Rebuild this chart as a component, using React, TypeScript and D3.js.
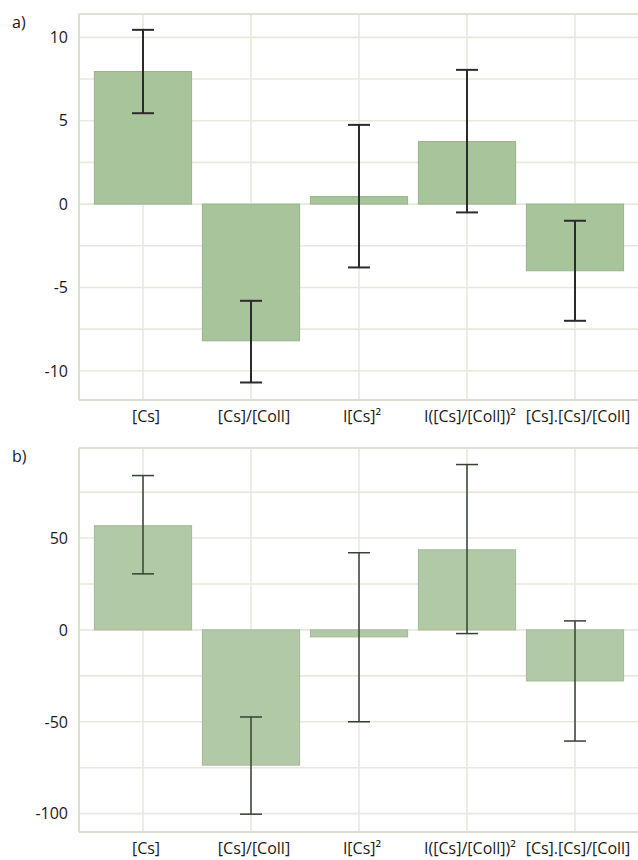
import React, { useEffect, useRef } from "react";
import * as d3 from "d3";

const categories = ["[Cs]", "[Cs]/[Coll]", "I[Cs]²", "I([Cs]/[Coll])²", "[Cs].[Cs]/[Coll]"];

const valuesA = [7.95, -8.2, 0.45, 3.75, -4.0];
const lowA = [5.45, -10.7, -3.8, -0.5, -7.0];
const highA = [10.45, -5.8, 4.75, 8.05, -1.0];
const ticksA = [-10, -5, 0, 5, 10];
const gridA = [-10, -7.5, -5, -2.5, 0, 2.5, 5, 7.5, 10];

const valuesB = [56.7, -73.6, -3.8, 43.6, -27.8];
const lowB = [30.5, -100.3, -50, -2, -60.5];
const highB = [84, -47.4, 42, 90, 4.9];
const ticksB = [-100, -50, 0, 50];
const gridB = [-100, -75, -50, -25, 0, 25, 50, 75];

const W = 638;
const H = 860;

export default function App() {
  const ref = useRef<SVGSVGElement>(null);

  useEffect(() => {
    const svg = d3.select(ref.current);
    svg.selectAll("*").remove();

    const x = d3.scaleBand<string>()
      .domain(categories)
      .range([89, 629])
      .paddingInner(0.1)
      .paddingOuter(0.05);

    function drawPanel(opts: any) {
      const { label, top, bottom, domain, values, low, high, ticks, grid, fill, errColor, errWidth, labelY } = opts;
      const left = 79;
      const right = W;
      const y = d3.scaleLinear().domain(domain).range([bottom, top]);
      const g = svg.append("g");

      // horizontal grid
      g.selectAll(".hg").data(grid).enter().append("line")
        .attr("x1", left).attr("x2", right)
        .attr("y1", (d: number) => y(d)).attr("y2", (d: number) => y(d))
        .attr("stroke", "#e6eadd").attr("stroke-width", 1.6);

      // vertical grid at category centers
      g.selectAll(".vg").data(categories).enter().append("line")
        .attr("x1", (d: string) => x(d)! + x.bandwidth() / 2)
        .attr("x2", (d: string) => x(d)! + x.bandwidth() / 2)
        .attr("y1", top).attr("y2", bottom)
        .attr("stroke", "#e6eadd").attr("stroke-width", 1.6);

      // frame
      g.append("line").attr("x1", left).attr("x2", right).attr("y1", top).attr("y2", top)
        .attr("stroke", "#dbe4d2").attr("stroke-width", 2);
      g.append("line").attr("x1", left).attr("x2", right).attr("y1", bottom).attr("y2", bottom)
        .attr("stroke", "#d6e0cc").attr("stroke-width", 2);
      g.append("line").attr("x1", left).attr("x2", left).attr("y1", top).attr("y2", bottom)
        .attr("stroke", "#d6e0cc").attr("stroke-width", 2);

      // bars
      g.selectAll(".bar").data(values).enter().append("rect")
        .attr("x", (d: number, i: number) => x(categories[i])!)
        .attr("width", x.bandwidth())
        .attr("y", (d: number) => Math.min(y(d), y(0)))
        .attr("height", (d: number) => Math.abs(y(d) - y(0)))
        .attr("fill", fill)
        .attr("stroke", d3.color(fill)!.darker(0.25).toString())
        .attr("stroke-width", 1);

      // error bars
      const cx = (i: number) => x(categories[i])! + x.bandwidth() / 2;
      const eb = g.selectAll(".err").data(values).enter().append("g");
      eb.append("line")
        .attr("x1", (d: number, i: number) => cx(i)).attr("x2", (d: number, i: number) => cx(i))
        .attr("y1", (d: number, i: number) => y(high[i])).attr("y2", (d: number, i: number) => y(low[i]))
        .attr("stroke", errColor).attr("stroke-width", errWidth);
      eb.append("line")
        .attr("x1", (d: number, i: number) => cx(i) - 11).attr("x2", (d: number, i: number) => cx(i) + 11)
        .attr("y1", (d: number, i: number) => y(high[i])).attr("y2", (d: number, i: number) => y(high[i]))
        .attr("stroke", errColor).attr("stroke-width", errWidth);
      eb.append("line")
        .attr("x1", (d: number, i: number) => cx(i) - 11).attr("x2", (d: number, i: number) => cx(i) + 11)
        .attr("y1", (d: number, i: number) => y(low[i])).attr("y2", (d: number, i: number) => y(low[i]))
        .attr("stroke", errColor).attr("stroke-width", errWidth);

      // y tick labels (plain hyphen minus, as in the original)
      g.selectAll(".yt").data(ticks).enter().append("text")
        .attr("x", 68)
        .attr("y", (d: number) => y(d))
        .attr("dy", "0.36em")
        .attr("text-anchor", "end")
        .attr("font-family", "'Open Sans', sans-serif")
        .attr("font-size", 16)
        .attr("fill", "#1a1a1a")
        .text((d: number) => String(d));

      // category labels
      g.selectAll(".xt").data(categories).enter().append("text")
        .attr("x", (d: string) => x(d)! + x.bandwidth() / 2 + 3)
        .attr("y", labelY)
        .attr("text-anchor", "middle")
        .attr("font-family", "'Open Sans', sans-serif")
        .attr("font-size", 16)
        .attr("fill", "#1a1a1a")
        .text((d: string) => d);

      // panel label
      g.append("text")
        .attr("x", 12).attr("y", top + 14)
        .attr("font-family", "'Open Sans', sans-serif")
        .attr("font-size", 16)
        .attr("fill", "#1a1a1a")
        .text(label);
    }

    drawPanel({
      label: "a)", top: 14, bottom: 400, domain: [-11.75, 11.4],
      values: valuesA, low: lowA, high: highA, ticks: ticksA, grid: gridA,
      fill: "#a8c49a", errColor: "#2b2b2b", errWidth: 2, labelY: 422
    });
    drawPanel({
      label: "b)", top: 448, bottom: 832, domain: [-110, 99],
      values: valuesB, low: lowB, high: highB, ticks: ticksB, grid: gridB,
      fill: "#b2c9a5", errColor: "#344234", errWidth: 1.5, labelY: 854
    });
  }, []);

  return (
    <svg ref={ref} width={W} height={H}
      style={{ position: "absolute", left: 0, top: 0, background: "#fff" }} />
  );
}
